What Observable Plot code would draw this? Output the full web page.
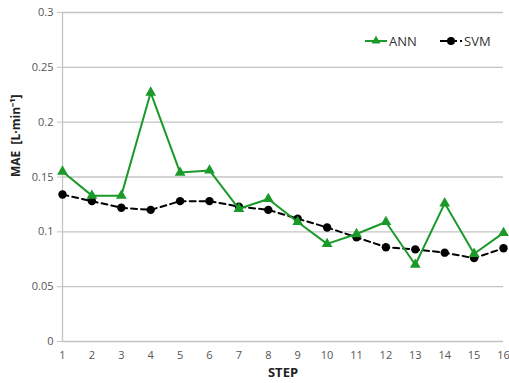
<!DOCTYPE html>
<html><head><meta charset="utf-8">
<script src="https://cdn.jsdelivr.net/npm/d3@7"></script>
<script src="https://cdn.jsdelivr.net/npm/@observablehq/plot@0.6"></script>
<style>
body{margin:0;background:#fff;font-family:"Open Sans",sans-serif;}
#wrap{position:relative;width:509px;height:383px;}
</style></head>
<body><div id="wrap"></div>
<script>
const steps = [1,2,3,4,5,6,7,8,9,10,11,12,13,14,15,16];
const annValues = [0.155,0.133,0.133,0.227,0.154,0.156,0.121,0.130,0.109,0.089,0.098,0.109,0.070,0.126,0.080,0.099];
const svmValues = [0.134,0.128,0.122,0.120,0.128,0.128,0.123,0.120,0.112,0.104,0.095,0.086,0.084,0.081,0.076,0.085];
const yTicks = [0,0.05,0.1,0.15,0.2,0.25,0.3];
const seriesNames = ["ANN","SVM"];
const green = "#1b9a2a";

const ann = steps.map((s,i)=>({step:s, v:annValues[i]}));
const svm = steps.map((s,i)=>({step:s, v:svmValues[i]}));

const chart = Plot.plot({
  width:509, height:383,
  marginLeft:62, marginRight:6, marginTop:12, marginBottom:42,
  style:{fontFamily:"'Open Sans',sans-serif", fontSize:"11px", color:"#555", background:"#fff"},
  x:{domain:[1,16]},
  y:{domain:[0,0.3]},
  marks:[
    Plot.gridY(yTicks,{stroke:"#c4c4c4", strokeOpacity:1, strokeWidth:1.3}),
    Plot.ruleX([1],{stroke:"#c4c4c4", strokeWidth:1.3}),
    Plot.axisY(yTicks,{tickSize:5, stroke:"#c4c4c4", tickPadding:4, fill:"#555", fontSize:11, label:null, tickFormat:d=>String(d)}),
    Plot.axisX(steps,{tickSize:0, tickPadding:10, fill:"#555", fontSize:11, label:null, tickFormat:d=>String(d)}),
    Plot.lineY(svm,{x:"step", y:"v", stroke:"#000", strokeWidth:2, strokeDasharray:"6,4"}),
    Plot.dot(svm,{x:"step", y:"v", r:4.2, fill:"#000", symbol:"circle"}),
    Plot.lineY(ann,{x:"step", y:"v", stroke:green, strokeWidth:2}),
    Plot.dot(ann,{x:"step", y:"v", r:4, fill:green, symbol:"triangle"}),
    Plot.text(["STEP"],{frameAnchor:"bottom", dy:35, fontWeight:"bold", fontSize:13, fill:"#222"}),
    Plot.text(["MAE  [L·min⁻¹]"],{frameAnchor:"left", dx:-46, rotate:-90, fontWeight:"bold", fontSize:12, fill:"#222"})
  ]
});
document.getElementById("wrap").appendChild(chart);

// legend
const svg = d3.select(chart);
const lg = svg.append("g").attr("font-family","'Open Sans',sans-serif").attr("font-size",13).attr("fill","#333").attr("text-anchor","start");
const items = [
  {name:seriesNames[0], x:365, color:green, sym:d3.symbolTriangle, dash:null},
  {name:seriesNames[1], x:440, color:"#000", sym:d3.symbolCircle, dash:"12,3,2,3"}
];
for (const it of items){
  const y=41;
  lg.append("line").attr("x1",it.x).attr("x2",it.x+22).attr("y1",y).attr("y2",y)
    .attr("stroke",it.color).attr("stroke-width",2).attr("stroke-dasharray",it.dash);
  lg.append("path").attr("d",d3.symbol(it.sym, it.sym===d3.symbolTriangle?35:50)()).attr("transform",`translate(${it.x+11},${y})`).attr("fill",it.color);
  lg.append("text").attr("x",it.x+24).attr("y",y).attr("dy","0.35em").attr("text-anchor","start").text(it.name);
}
</script></body></html>
